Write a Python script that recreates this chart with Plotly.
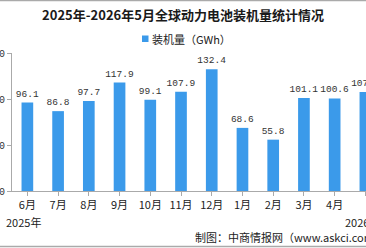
import plotly.graph_objects as go

months = ["6月", "7月", "8月", "9月", "10月", "11月", "12月", "1月", "2月", "3月", "4月", "5月"]
values = [96.1, 86.8, 97.7, 117.9, 99.1, 107.9, 132.4, 68.6, 55.8, 101.1, 100.6, 107.7]
value_labels = ["96.1", "86.8", "97.7", "117.9", "99.1", "107.9", "132.4", "68.6", "55.8", "101.1", "100.6", "107.7"]
series_name = "装机量（GWh）"
title = "2025年-2026年5月全球动力电池装机量统计情况"
year_start = "2025年"
year_end = "2026年"
source = "制图：中商情报网（www.askci.com）"

W, H = 366, 248
L, R, T, B = 12, 0, 53, 57
PW, PH = W - L - R, H - T - B

def px(x):
    return (x - L) / PW

def py(y):
    return (H - B - y) / PH

BLUE = "#3b9aea"
CJK = "Noto Sans CJK SC"
MONO = "Liberation Mono, DejaVu Sans Mono, monospace"

fig = go.Figure()
fig.add_trace(go.Bar(
    x=list(range(len(months))), y=values,
    marker=dict(color=BLUE, line=dict(width=0)),
    width=0.38,
    text=value_labels, textposition="outside", cliponaxis=False,
    constraintext="none",
    textfont=dict(family=MONO, size=9.5, color="#333333"),
    showlegend=False, hoverinfo="skip",
))

fig.update_layout(
    width=W, height=H,
    margin=dict(l=L, r=R, t=T, b=B, autoexpand=False),
    paper_bgcolor="white", plot_bgcolor="white",
    title=dict(text="<b>" + title + "</b>", x=0.5, xanchor="center",
               y=1 - 15 / H, yanchor="middle", yref="container",
               font=dict(family=CJK, size=13, color="#1a1a1a")),
    xaxis=dict(
        range=[-0.5, 11.02], automargin=False,
        tickmode="array", tickvals=list(range(len(months))), ticktext=months,
        tickson="boundaries", ticks="outside", ticklen=4, tickcolor="#aaaaaa",
        showline=True, linecolor="#aaaaaa", linewidth=1,
        showgrid=False, zeroline=False,
        tickfont=dict(family=CJK, size=11, color="#222222"),
    ),
    yaxis=dict(
        range=[0, 150], tickvals=[0, 50, 100, 150], automargin=False,
        ticks="outside", ticklen=4, tickcolor="#aaaaaa",
        showline=True, linecolor="#aaaaaa", linewidth=1,
        showgrid=False, zeroline=False,
        tickfont=dict(family=MONO, size=10, color="#333333"),
    ),
    bargap=0.62,
    showlegend=False,
)

annotations = [
    dict(text=series_name, x=px(150), y=py(39), xanchor="left", yanchor="middle",
         font=dict(family=CJK, size=11, color="#222222")),
    dict(text=year_start, x=px(4), y=py(222), xanchor="left", yanchor="middle",
         font=dict(family=CJK, size=11, color="#222222")),
    dict(text=year_end, x=px(343), y=py(222), xanchor="left", yanchor="middle",
         font=dict(family=CJK, size=11, color="#222222")),
    dict(text=source, x=px(193), y=py(237), xanchor="left", yanchor="middle",
         font=dict(family=CJK, size=11, color="#222222")),
]
for a in annotations:
    a.update(xref="paper", yref="paper", showarrow=False)
fig.update_layout(annotations=annotations)

fig.update_layout(shapes=[
    dict(type="rect", xref="paper", yref="paper", x0=px(142), x1=px(148.5),
         y0=py(35.5), y1=py(42), fillcolor=BLUE, line=dict(width=0)),
    dict(type="line", xref="paper", yref="paper", x0=px(0), x1=px(W),
         y0=py(0.5), y1=py(0.5), line=dict(color="#aaaaaa", width=1.5)),
    dict(type="line", xref="paper", yref="paper", x0=px(0), x1=px(W),
         y0=py(246.5), y1=py(246.5), line=dict(color="#aaaaaa", width=1.5)),
])

fig.write_html("out.html")
